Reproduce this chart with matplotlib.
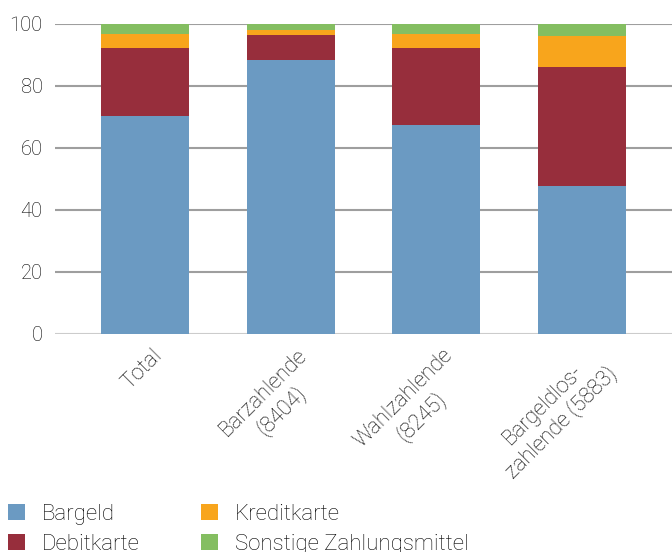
import numpy as np
import matplotlib.pyplot as plt
import matplotlib.transforms as mtransforms
from matplotlib.patches import Patch

plt.rcParams['font.family'] = ['Roboto', 'DejaVu Sans']
plt.rcParams['font.weight'] = 'light'
plt.rcParams['text.color'] = '#000000'

categories = ["Total", "Barzahlende\n(8404)", "Wahlzahlende\n(8245)", "Bargeldlos-\nzahlende (5883)"]
bargeld = [70.2, 88.5, 67.3, 47.8]
debitkarte = [21.9, 7.8, 24.8, 38.2]
kreditkarte = [4.8, 1.6, 4.5, 10.0]
sonstige = [3.1, 2.1, 3.4, 4.0]

series = [
    ("Bargeld", bargeld, "#6b9ac2"),
    ("Debitkarte", debitkarte, "#972e3c"),
    ("Kreditkarte", kreditkarte, "#f8a51c"),
    ("Sonstige Zahlungsmittel", sonstige, "#84be61"),
]

fig = plt.figure(figsize=(6.72, 5.52), dpi=100)
ax = fig.add_axes([0.082, 0.395, 0.918, 0.5616])

x = np.arange(len(categories))
bottom = np.zeros(len(categories))
for name, vals, col in series:
    ax.bar(x, vals, width=0.605, bottom=bottom, color=col, zorder=3)
    bottom += np.array(vals)

ax.set_xlim(-0.62, 3.62)
ax.set_ylim(0, 100)
ax.set_yticks(range(0, 101, 20))
ax.yaxis.grid(True, color="#9e9e9e", linewidth=1.5, zorder=0)
ax.get_ygridlines()[0].set_color("#cccccc")
ax.tick_params(axis="both", length=0, labelsize=14.5, colors="#000000")
ax.tick_params(axis="y", pad=9)
ax.tick_params(axis="x", pad=8, labelsize=15.5)
for s in ax.spines.values():
    s.set_visible(False)

ax.set_xticks(x)
ax.set_xticklabels(categories, rotation=45, ha="right", va="top",
                   rotation_mode="anchor", multialignment="center")
offset = mtransforms.ScaledTranslation(6 / 100, 0, fig.dpi_scale_trans)
for lab in ax.get_xticklabels():
    lab.set_transform(lab.get_transform() + offset)

handles = [Patch(facecolor=col, label=name) for name, vals, col in series]
fig.legend(handles=handles, loc="upper left", bbox_to_anchor=(0.012, 1 - 504 / 552),
           ncol=2, frameon=False, fontsize=16, handlelength=0.75, handleheight=0.75,
           handletextpad=0.75, columnspacing=2.8, labelspacing=0.4,
           borderaxespad=0, borderpad=0)

fig.savefig("out.png", dpi=100)
